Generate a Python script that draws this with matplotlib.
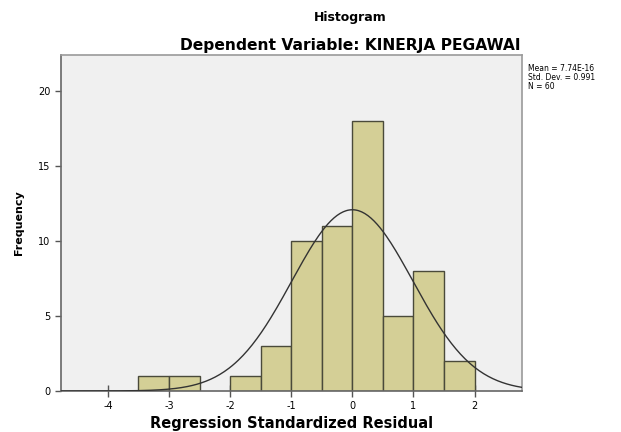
import numpy as np
import matplotlib
matplotlib.use("Agg")
import matplotlib.pyplot as plt

# histogram of residuals, bins of width 0.5
bin_edges = [-3.5, -3.0, -2.5, -2.0, -1.5, -1.0, -0.5, 0.0, 0.5, 1.0, 1.5, 2.0]
counts = [1, 1, 0, 1, 3, 10, 11, 18, 5, 8, 2]
mean_val = 7.74e-16
std_val = 0.991
n_obs = 60
x_ticks = [-4, -3, -2, -1, 0, 1, 2]
y_ticks = [0, 5, 10, 15, 20]

fig = plt.figure(figsize=(6.21, 4.32), dpi=100)
ax = fig.add_axes([0.098, 0.095, 0.743, 0.778])
ax.set_facecolor("#f0f0f0")

lefts = np.array(bin_edges[:-1])
widths = np.diff(bin_edges)
for l, w, c in zip(lefts, widths, counts):
    if c > 0:
        ax.bar(l, c, width=w, align="edge", color="#d4cf96",
               edgecolor="#4a4a3a", linewidth=1.0, zorder=2)

# normal curve scaled to counts
xs = np.linspace(-4.77, 2.78, 300)
bw = 0.5
ys = n_obs * bw / (std_val * np.sqrt(2 * np.pi)) * np.exp(-0.5 * ((xs - mean_val) / std_val) ** 2)
ax.plot(xs, ys, color="#333333", linewidth=1.0, zorder=3)

ax.set_xlim(-4.77, 2.78)
ax.set_ylim(0, 22.4)
ax.set_xticks(x_ticks)
ax.set_xticklabels([str(t) for t in x_ticks])
ax.set_yticks(y_ticks)
ax.set_yticklabels([str(t) for t in y_ticks])
ax.tick_params(axis="x", direction="inout", length=8, width=1, labelsize=7, color="#555555")
ax.tick_params(axis="y", direction="out", length=4, width=1, labelsize=7, color="#555555")
for s in ax.spines.values():
    s.set_color("#9a9a9a")
    s.set_linewidth(1.2)
ax.spines["left"].set_color("#666666")
ax.spines["bottom"].set_color("#666666")

ax.set_xlabel("Regression Standardized Residual", fontsize=10.5, fontweight="bold", labelpad=3)
ax.set_ylabel("Frequency", fontsize=8, fontweight="bold", labelpad=10)

fig.text(0.564, 0.96, "Histogram", ha="center", va="center", fontsize=9, fontweight="bold")
fig.text(0.564, 0.895, "Dependent Variable: KINERJA PEGAWAI", ha="center", va="center",
         fontsize=11.2, fontweight="bold")

stats_txt = "Mean = 7.74E-16\nStd. Dev. = 0.991\nN = 60"
fig.text(0.851, 0.82, stats_txt, ha="left", va="center", fontsize=5.5, linespacing=1.0)

fig.savefig("out.png", dpi=100)
